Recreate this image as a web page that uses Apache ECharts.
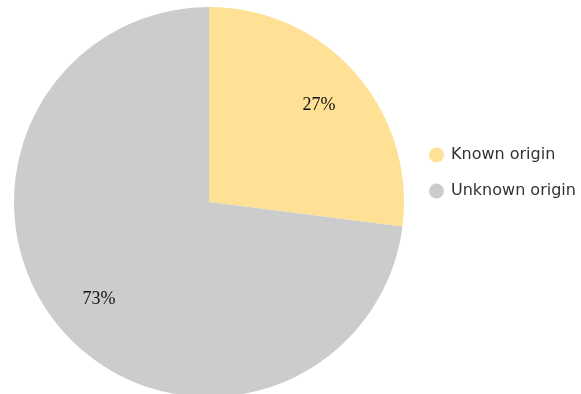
<!DOCTYPE html>
<html>
<head>
<meta charset="utf-8">
<script src="https://cdn.jsdelivr.net/npm/echarts@6/dist/echarts.min.js"></script>
<style>
  html, body { margin: 0; padding: 0; background: #fff; }
  #chart { width: 581px; height: 394px; }
</style>
</head>
<body>
<div id="chart"></div>
<script>
// Share of items by origin (percent)
const categories = ['Known origin', 'Unknown origin'];
const shares = [27, 73];
const colors = ['#FFE196', '#CCCCCC'];

const pieData = categories.map((name, i) => ({
  name: name,
  value: shares[i],
  itemStyle: { color: colors[i] }
}));

const center = [209, 202];
const outer = 195;

const chart = echarts.init(document.getElementById('chart'), null, { renderer: 'canvas' });
chart.setOption({
  animation: false,
  legend: {
    orient: 'vertical',
    left: 424,
    top: 142,
    itemGap: 20,
    itemWidth: 15,
    itemHeight: 15,
    icon: 'circle',
    data: categories,
    textStyle: {
      fontFamily: 'DejaVu Sans',
      fontSize: 16,
      color: '#333333',
      padding: [0, 0, 0, 2]
    }
  },
  series: [
    {
      // the filled slices
      type: 'pie',
      center: center,
      radius: [0, outer],
      startAngle: 90,
      clockwise: true,
      label: { show: false },
      labelLine: { show: false },
      emphasis: { disabled: true },
      data: pieData
    },
    {
      // percentage labels placed in the outer ring of each slice
      type: 'pie',
      center: center,
      radius: [92, outer],
      startAngle: 90,
      clockwise: true,
      silent: true,
      itemStyle: { color: 'transparent' },
      label: {
        show: true,
        position: 'inside',
        formatter: '{c}%',
        fontFamily: 'Liberation Serif',
        fontSize: 18,
        color: '#111111'
      },
      labelLine: { show: false },
      emphasis: { disabled: true },
      data: categories.map((name, i) => ({ name: name, value: shares[i] }))
    }
  ]
});
</script>
</body>
</html>
